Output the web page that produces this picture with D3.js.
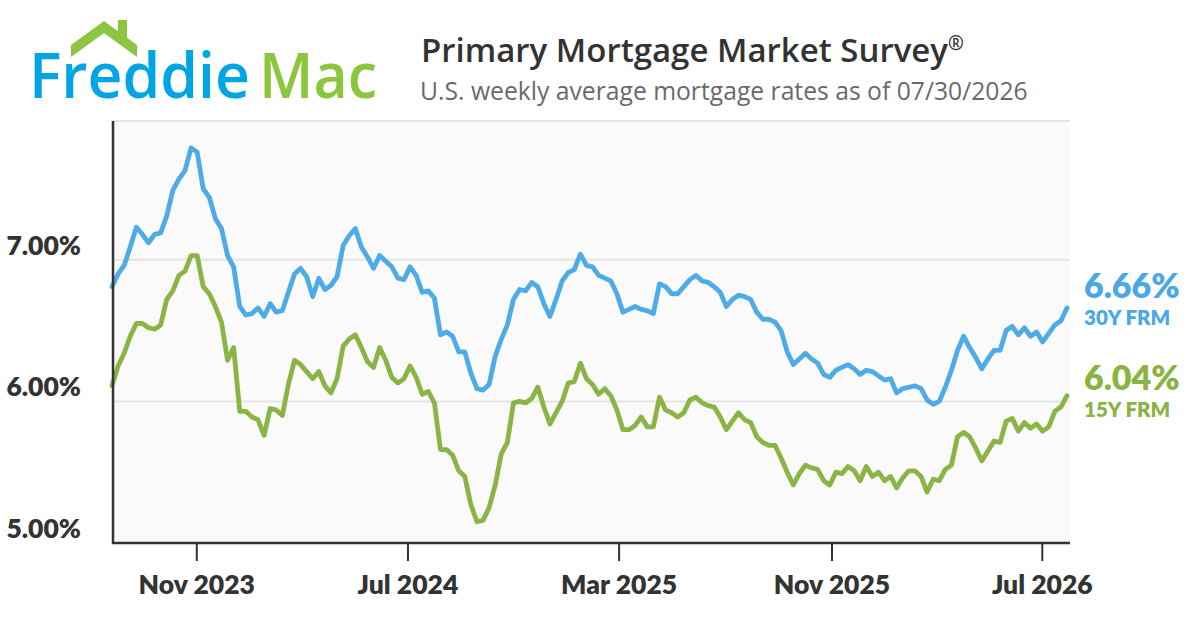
<!DOCTYPE html>
<html>
<head>
<meta charset="utf-8">
<script src="https://cdn.jsdelivr.net/npm/d3@7/dist/d3.min.js"></script>
<style>
  body { margin: 0; background: #fff; }
  svg { display: block; }
</style>
</head>
<body>
<svg id="chart" width="1200" height="630"></svg>
<script>
// weekly PMMS readings, first release in the window
const firstWeek = "2023-07-27";

const frm30_2023 = [6.81, 6.90, 6.96, 7.09, 7.23, 7.18, 7.12, 7.18, 7.19, 7.31, 7.49, 7.57, 7.63, 7.79, 7.76, 7.50, 7.44, 7.29, 7.22, 7.03, 6.95, 6.67, 6.61];
const frm30_2024 = [6.62, 6.66, 6.60, 6.69, 6.63, 6.64, 6.77, 6.90, 6.94, 6.88, 6.74, 6.87, 6.79, 6.82, 6.88, 7.10, 7.17, 7.22, 7.09, 7.02,
                    6.94, 7.03, 6.99, 6.95, 6.87, 6.86, 6.95, 6.89, 6.77, 6.78, 6.73, 6.47, 6.49, 6.46, 6.35, 6.35, 6.20, 6.09, 6.08, 6.12,
                    6.32, 6.44, 6.54, 6.72, 6.79, 6.78, 6.84, 6.81, 6.69, 6.60, 6.72, 6.85];
const frm30_2025 = [6.91, 6.93, 7.04, 6.96, 6.95, 6.89, 6.87, 6.85, 6.76, 6.63, 6.65, 6.67, 6.65, 6.64, 6.62, 6.83, 6.81, 6.76, 6.76, 6.81,
                    6.86, 6.89, 6.85, 6.84, 6.81, 6.77, 6.67, 6.72, 6.75, 6.74, 6.72, 6.63, 6.58, 6.58, 6.56, 6.50, 6.35, 6.26, 6.30, 6.34,
                    6.30, 6.27, 6.19, 6.17, 6.22, 6.24, 6.26, 6.23, 6.19, 6.22, 6.21, 6.18, 6.15];
const frm30_2026 = [6.16, 6.06, 6.09, 6.10, 6.11, 6.09, 6.01, 5.98, 6.00, 6.10, 6.22, 6.36, 6.46, 6.38, 6.31, 6.23, 6.30, 6.36, 6.36, 6.50,
                    6.53, 6.47, 6.52, 6.46, 6.49, 6.42, 6.48, 6.54, 6.57, 6.66];

const frm15_2023 = [6.11, 6.25, 6.34, 6.46, 6.55, 6.55, 6.52, 6.51, 6.54, 6.72, 6.78, 6.89, 6.92, 7.03, 7.03, 6.81, 6.76, 6.67, 6.56, 6.29, 6.38, 5.93, 5.93];
const frm15_2024 = [5.89, 5.87, 5.76, 5.95, 5.94, 5.90, 6.12, 6.29, 6.26, 6.21, 6.16, 6.21, 6.11, 6.06, 6.16, 6.39, 6.44, 6.47, 6.38, 6.28,
                    6.24, 6.38, 6.29, 6.17, 6.13, 6.16, 6.25, 6.17, 6.05, 6.07, 5.99, 5.66, 5.66, 5.62, 5.51, 5.47, 5.27, 5.15, 5.16, 5.25,
                    5.41, 5.63, 5.71, 5.99, 6.00, 5.99, 6.02, 6.10, 5.96, 5.84, 5.92, 6.00];
const frm15_2025 = [6.13, 6.14, 6.27, 6.16, 6.12, 6.05, 6.09, 6.04, 5.94, 5.80, 5.80, 5.83, 5.89, 5.82, 5.82, 6.03, 5.94, 5.92, 5.89, 5.92,
                    6.01, 6.03, 5.99, 5.97, 5.96, 5.89, 5.80, 5.86, 5.92, 5.87, 5.85, 5.75, 5.71, 5.69, 5.69, 5.60, 5.50, 5.41, 5.49, 5.55,
                    5.53, 5.52, 5.44, 5.41, 5.50, 5.49, 5.54, 5.51, 5.44, 5.54, 5.47, 5.50, 5.44];
const frm15_2026 = [5.47, 5.39, 5.46, 5.51, 5.51, 5.47, 5.36, 5.45, 5.44, 5.52, 5.55, 5.75, 5.78, 5.75, 5.67, 5.58, 5.65, 5.72, 5.71, 5.86,
                    5.88, 5.79, 5.85, 5.81, 5.84, 5.79, 5.82, 5.93, 5.96, 6.04];

const tickDates = ["2023-11-01", "2024-07-01", "2025-03-01", "2025-11-01", "2026-07-01"];
const yTicks = [5, 6, 7];
const seriesNames = ["30Y FRM", "15Y FRM"];
const seriesColors = ["#4dabe8", "#8ab545"];
const labelColors = ["#4aa8e6", "#89b441"];

const svg = d3.select("#chart");
const parse = d3.timeParse("%Y-%m-%d");
const start = parse(firstWeek);

const frm30 = [].concat(frm30_2023, frm30_2024, frm30_2025, frm30_2026);
const frm15 = [].concat(frm15_2023, frm15_2024, frm15_2025, frm15_2026);
const weeks = frm30.map((d, i) => d3.timeDay.offset(start, 7 * i));

const series = [frm30, frm15].map((vals, s) => ({
  name: seriesNames[s],
  color: seriesColors[s],
  labelColor: labelColors[s],
  values: vals.map((v, i) => ({ date: weeks[i], rate: v }))
}));

const plot = { left: 113, right: 1070, top: 121, bottom: 543 };
const axisFont = "Lato, sans-serif";

const x = d3.scaleTime()
  .domain([start, weeks[weeks.length - 1]])
  .range([112, 1067]);

const y = d3.scaleLinear()
  .domain([5, 7.98])
  .range([plot.bottom, plot.top]);

// ---- logo ----
const logo = svg.append("g");
logo.append("path")
  .attr("d", "M71,45 L104,21 L118,31.2 L118,20 L127,20 L127,37.8 L137,45 L137,57 L104,33 L71,57 Z")
  .attr("fill", "#8cc63f");
logo.append("text")
  .attr("x", 29).attr("y", 98)
  .attr("textLength", 221).attr("lengthAdjust", "spacingAndGlyphs")
  .style("font-family", "'Open Sans', sans-serif")
  .style("font-weight", 600)
  .style("font-size", "63px")
  .attr("fill", "#00a6e4")
  .text("Freddie");
logo.append("text")
  .attr("x", 259).attr("y", 98)
  .attr("textLength", 118).attr("lengthAdjust", "spacingAndGlyphs")
  .style("font-family", "'Open Sans', sans-serif")
  .style("font-weight", 600)
  .style("font-size", "63px")
  .attr("fill", "#8cc63f")
  .text("Mac");

// ---- titles ----
svg.append("text")
  .attr("x", 421).attr("y", 62)
  .style("font-family", "'Open Sans', sans-serif")
  .style("font-weight", 600)
  .style("font-size", "33px")
  .attr("fill", "#333")
  .text("Primary Mortgage Market Survey")
  .append("tspan")
  .attr("dy", -12)
  .style("font-size", "19px")
  .text("®");

svg.append("text")
  .attr("x", 420).attr("y", 100)
  .style("font-family", "'Open Sans', sans-serif")
  .style("font-weight", 400)
  .style("font-size", "24.7px")
  .attr("fill", "#6a6a6a")
  .text("U.S. weekly average mortgage rates as of 07/30/2026");

// ---- plot area ----
svg.append("rect")
  .attr("x", plot.left).attr("y", plot.top)
  .attr("width", plot.right - plot.left).attr("height", plot.bottom - plot.top)
  .attr("fill", "#fafafa");

svg.append("line")
  .attr("x1", plot.left).attr("x2", plot.right)
  .attr("y1", plot.top).attr("y2", plot.top)
  .attr("stroke", "#e4e4e4").attr("stroke-width", 2);

svg.append("g")
  .selectAll("line")
  .data(yTicks.filter(d => d > 5))
  .enter().append("line")
  .attr("x1", plot.left).attr("x2", plot.right)
  .attr("y1", d => y(d)).attr("y2", d => y(d))
  .attr("stroke", "#e4e4e4")
  .attr("stroke-width", 2);

svg.append("g")
  .selectAll("text")
  .data(yTicks)
  .enter().append("text")
  .attr("x", 81)
  .attr("y", d => y(d) - 5)
  .attr("text-anchor", "end")
  .style("font-family", axisFont)
  .style("font-weight", 800)
  .style("font-size", "26.5px")
  .attr("fill", "#333")
  .text(d => d.toFixed(2) + "%");

// x axis
const xAxis = d3.axisBottom(x)
  .tickValues(tickDates.map(parse))
  .tickFormat(d3.timeFormat("%b %Y"))
  .tickSize(18)
  .tickPadding(14);

const gx = svg.append("g")
  .attr("transform", `translate(0,${plot.bottom})`)
  .call(xAxis);
gx.select(".domain").remove();
gx.selectAll(".tick line").attr("stroke", "#333").attr("stroke-width", 2);
gx.selectAll(".tick text")
  .style("font-family", axisFont)
  .style("font-weight", 800)
  .style("font-size", "26.5px")
  .attr("fill", "#333");

// ---- lines ----
const line = d3.line()
  .x(d => x(d.date))
  .y(d => y(d.rate));

svg.append("g")
  .selectAll("path")
  .data(series)
  .enter().append("path")
  .attr("d", d => line(d.values))
  .attr("fill", "none")
  .attr("stroke", d => d.color)
  .attr("stroke-width", 4.8)
  .attr("stroke-linejoin", "round")
  .attr("stroke-linecap", "round");

// axis frame
svg.append("line")
  .attr("x1", plot.left).attr("x2", plot.left)
  .attr("y1", plot.top).attr("y2", plot.bottom + 1)
  .attr("stroke", "#333").attr("stroke-width", 2.5);
svg.append("line")
  .attr("x1", plot.left - 1).attr("x2", plot.right)
  .attr("y1", plot.bottom).attr("y2", plot.bottom)
  .attr("stroke", "#333").attr("stroke-width", 2.5);

// ---- end labels ----
const labelShift = [-10, -6];
const endLabels = svg.append("g")
  .selectAll("g")
  .data(series)
  .enter().append("g")
  .attr("transform", (d, i) => `translate(1084,${y(d.values[d.values.length - 1].rate) + labelShift[i]})`);

endLabels.append("text")
  .style("font-family", axisFont)
  .style("font-weight", 800)
  .style("font-size", "34px")
  .attr("fill", d => d.labelColor)
  .text(d => d.values[d.values.length - 1].rate.toFixed(2) + "%");

endLabels.append("text")
  .attr("y", 27)
  .style("font-family", axisFont)
  .style("font-weight", 800)
  .style("font-size", "20.5px")
  .attr("fill", d => d.labelColor)
  .text(d => d.name);
</script>
</body>
</html>
